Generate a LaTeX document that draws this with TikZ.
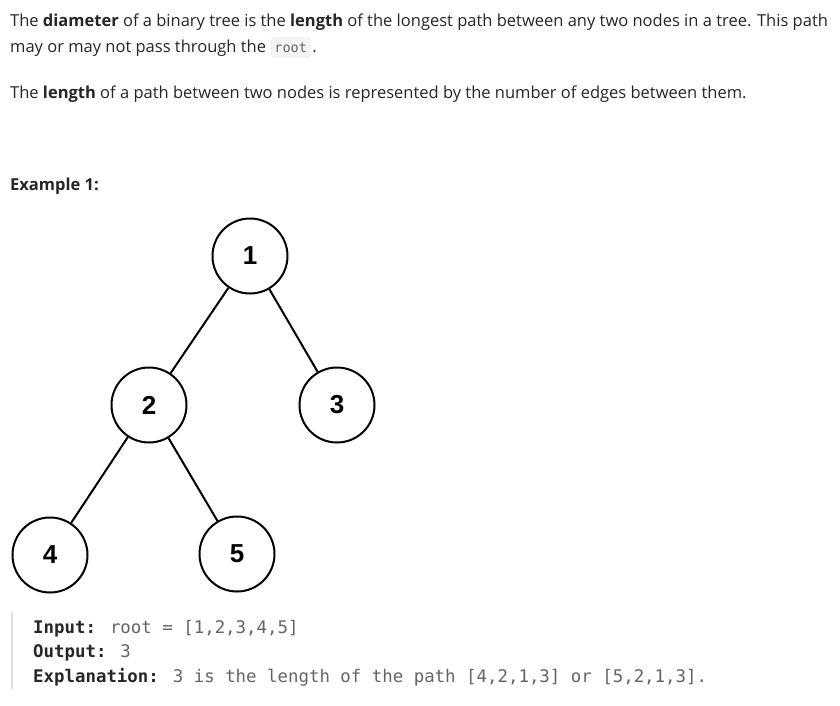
\documentclass[tikz,border=0pt]{standalone}
\usepackage{fontspec}
\setmainfont{Open Sans}
\newfontfamily\codefont{DejaVu Sans Mono}
\newfontfamily\digitfont{Liberation Sans}
\usepackage{xcolor}
\definecolor{lcink}{RGB}{38,38,38}
\definecolor{lcgray}{RGB}{100,100,100}
\definecolor{lcbar}{RGB}{224,224,224}
\definecolor{lcbox}{RGB}{245,245,245}
\definecolor{lcboxline}{RGB}{228,228,228}
\usetikzlibrary{positioning}
\tikzset{
  treenode/.style={circle,draw,line width=2pt,minimum size=75pt,inner sep=0pt,
    font=\digitfont\bfseries\fontsize{26}{28}\selectfont},
  treeedge/.style={line width=2pt},
  para/.style={anchor=base west,inner sep=0pt,text=lcink,font=\fontsize{16.5}{19}\selectfont},
  codeline/.style={anchor=base west,inner sep=0pt,text=lcgray,font=\codefont\fontsize{17.4}{20}\selectfont},
  inlinecode/.style={anchor=base west,fill=lcbox,draw=lcboxline,rounded corners=3pt,
    inner xsep=3pt,inner ysep=5pt,text=lcgray,font=\codefont\fontsize{13.5}{15}\selectfont}
}
\begin{document}
\begin{tikzpicture}[x=1pt,y=-1pt]
\useasboundingbox[fill=white] (0,0) rectangle (840,705);
% ---- opis ----
\node[para] (line1) at (10,26) {The \textbf{diameter} of a binary tree is the \textbf{length} of the longest path between any two nodes in a tree. This path};
\node[para] (line2) at (10,52) {may or may not pass through the};
\node[inlinecode,right=5pt of line2.base east,anchor=base west] (rootcode) {root};
\node[para,right=2pt of rootcode.base east,anchor=base west] (dot) {.};
\node[para] (line3) at (10,98) {The \textbf{length} of a path between two nodes is represented by the number of edges between them.};
\node[para] (example) at (10,190) {\textbf{Example 1:}};
% ---- drzewo ----
\node[treenode] (n1) at (250,256) {1};
\node[treenode] (n2) at (149,405) {2};
\node[treenode] (n3) at (337,405) {3};
\node[treenode] (n4) at (50,555) {4};
\node[treenode] (n5) at (237,554) {5};
\draw[treeedge] (n1) -- (n2);
\draw[treeedge] (n1) -- (n3);
\draw[treeedge] (n2) -- (n4);
\draw[treeedge] (n2) -- (n5);
% ---- blok kodu ----
\coordinate (bartop) at (12,612);
\coordinate (barbot) at (12,689);
\draw[lcbar,line width=2pt] (bartop) -- (barbot);
\node[codeline] (input) at (33,633) {\textcolor{lcink}{\bfseries Input:} root = [1,2,3,4,5]};
\node[codeline] (output) at (33,657) {\textcolor{lcink}{\bfseries Output:} 3};
\node[codeline] (explain) at (33,682) {\textcolor{lcink}{\bfseries Explanation:} 3 is the length of the path [4,2,1,3] or [5,2,1,3].};
\end{tikzpicture}
\end{document}
